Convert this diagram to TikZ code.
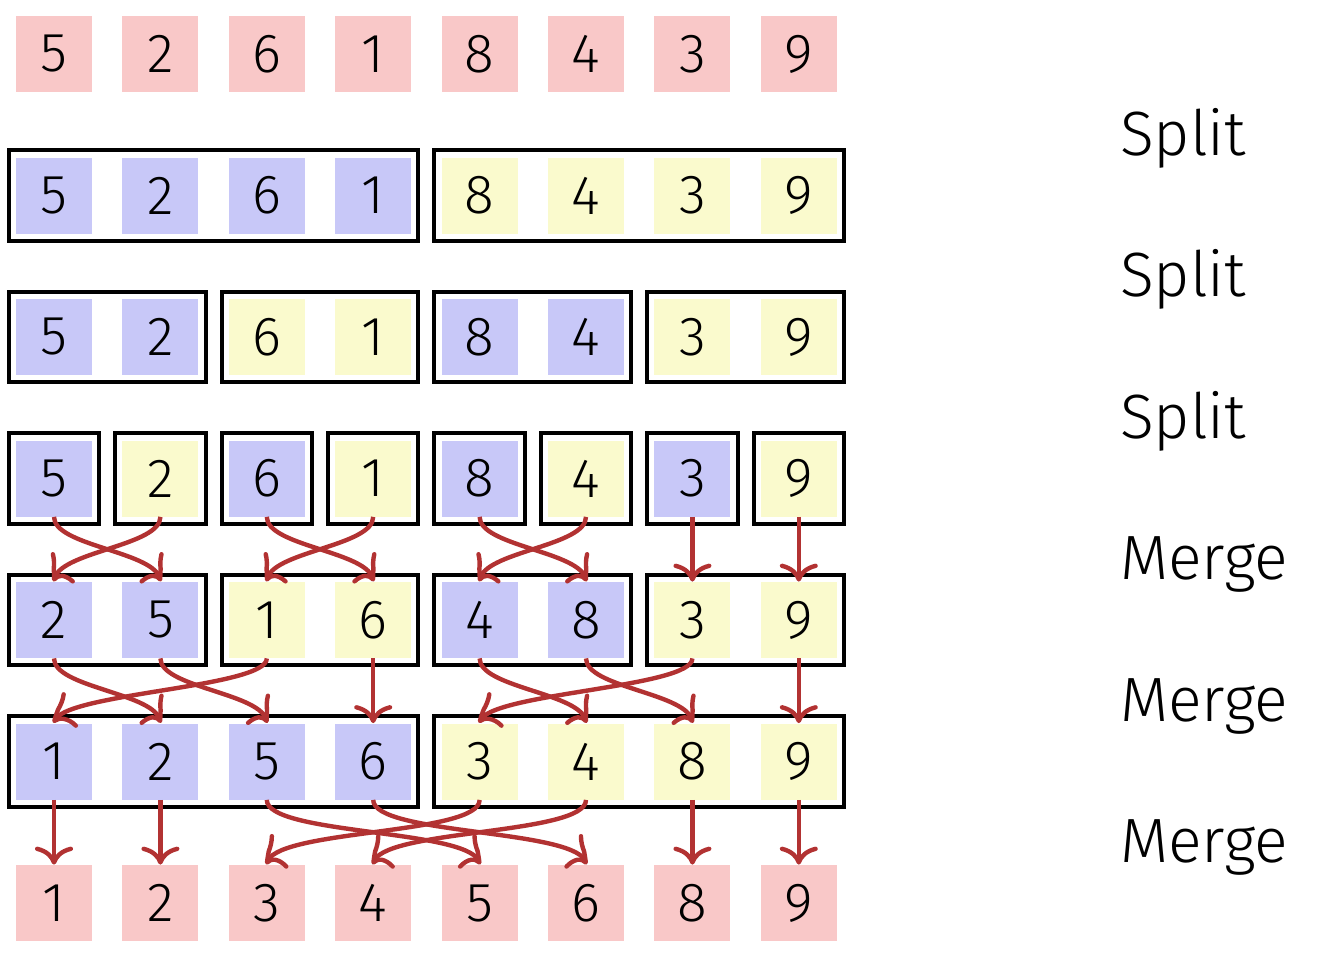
\documentclass[tikz,border=0pt]{standalone}
\usepackage{fontspec}
\setmainfont{Fira Sans Light}
\usetikzlibrary{fit,arrows.meta,bending}
\definecolor{cellred}{RGB}{249,200,200}
\definecolor{cellblue}{RGB}{200,200,248}
\definecolor{cellyellow}{RGB}{250,250,205}
\definecolor{flowred}{RGB}{178,50,50}
\tikzset{cell/.style={minimum size=38pt, inner sep=0pt, font=\fontsize{27.5}{30}\selectfont},
	red/.style={cell, fill=cellred},
	blu/.style={cell, fill=cellblue},
	yel/.style={cell, fill=cellyellow},
	grp/.style={draw, line width=2pt, inner sep=3.4pt},
	flow/.style={draw=flowred, line width=2.2pt, -{Computer Modern Rightarrow[bend,length=9pt,width=19pt]}},
	swap/.style={out=-90, in=90, distance=15pt},
	step label/.style={anchor=base west, font=\fontsize{31.3}{34}\selectfont}}

\begin{document}
\begin{tikzpicture}[x=0.5pt,y=-0.5pt]

					\useasboundingbox (0,0) rectangle (1325,958);

					% row 1
					\node[red] (c1-0) at (54,54) {5};
					\node[red] (c1-1) at (160.4,54) {2};
					\node[red] (c1-2) at (266.8,54) {6};
					\node[red] (c1-3) at (373.2,54) {1};
					\node[red] (c1-4) at (479.6,54) {8};
					\node[red] (c1-5) at (586,54) {4};
					\node[red] (c1-6) at (692.4,54) {3};
					\node[red] (c1-7) at (798.8,54) {9};

					% row 2
					\node[blu] (c2-0) at (54,195.5) {5};
					\node[blu] (c2-1) at (160.4,195.5) {2};
					\node[blu] (c2-2) at (266.8,195.5) {6};
					\node[blu] (c2-3) at (373.2,195.5) {1};
					\node[yel] (c2-4) at (479.6,195.5) {8};
					\node[yel] (c2-5) at (586,195.5) {4};
					\node[yel] (c2-6) at (692.4,195.5) {3};
					\node[yel] (c2-7) at (798.8,195.5) {9};

					\node[grp, fit=(c2-0)(c2-3)] (g2-0) {};
					\node[grp, fit=(c2-4)(c2-7)] (g2-1) {};

					% row 3
					\node[blu] (c3-0) at (54,337) {5};
					\node[blu] (c3-1) at (160.4,337) {2};
					\node[yel] (c3-2) at (266.8,337) {6};
					\node[yel] (c3-3) at (373.2,337) {1};
					\node[blu] (c3-4) at (479.6,337) {8};
					\node[blu] (c3-5) at (586,337) {4};
					\node[yel] (c3-6) at (692.4,337) {3};
					\node[yel] (c3-7) at (798.8,337) {9};

					\node[grp, fit=(c3-0)(c3-1)] (g3-0) {};
					\node[grp, fit=(c3-2)(c3-3)] (g3-1) {};
					\node[grp, fit=(c3-4)(c3-5)] (g3-2) {};
					\node[grp, fit=(c3-6)(c3-7)] (g3-3) {};

					% row 4
					\node[blu] (c4-0) at (54,478.5) {5};
					\node[yel] (c4-1) at (160.4,478.5) {2};
					\node[blu] (c4-2) at (266.8,478.5) {6};
					\node[yel] (c4-3) at (373.2,478.5) {1};
					\node[blu] (c4-4) at (479.6,478.5) {8};
					\node[yel] (c4-5) at (586,478.5) {4};
					\node[blu] (c4-6) at (692.4,478.5) {3};
					\node[yel] (c4-7) at (798.8,478.5) {9};

					\node[grp, fit=(c4-0)] (g4-0) {};
					\node[grp, fit=(c4-1)] (g4-1) {};
					\node[grp, fit=(c4-2)] (g4-2) {};
					\node[grp, fit=(c4-3)] (g4-3) {};
					\node[grp, fit=(c4-4)] (g4-4) {};
					\node[grp, fit=(c4-5)] (g4-5) {};
					\node[grp, fit=(c4-6)] (g4-6) {};
					\node[grp, fit=(c4-7)] (g4-7) {};

					% row 5
					\node[blu] (c5-0) at (54,620) {2};
					\node[blu] (c5-1) at (160.4,620) {5};
					\node[yel] (c5-2) at (266.8,620) {1};
					\node[yel] (c5-3) at (373.2,620) {6};
					\node[blu] (c5-4) at (479.6,620) {4};
					\node[blu] (c5-5) at (586,620) {8};
					\node[yel] (c5-6) at (692.4,620) {3};
					\node[yel] (c5-7) at (798.8,620) {9};

					\node[grp, fit=(c5-0)(c5-1)] (g5-0) {};
					\node[grp, fit=(c5-2)(c5-3)] (g5-1) {};
					\node[grp, fit=(c5-4)(c5-5)] (g5-2) {};
					\node[grp, fit=(c5-6)(c5-7)] (g5-3) {};

					% row 6
					\node[blu] (c6-0) at (54,761.5) {1};
					\node[blu] (c6-1) at (160.4,761.5) {2};
					\node[blu] (c6-2) at (266.8,761.5) {5};
					\node[blu] (c6-3) at (373.2,761.5) {6};
					\node[yel] (c6-4) at (479.6,761.5) {3};
					\node[yel] (c6-5) at (586,761.5) {4};
					\node[yel] (c6-6) at (692.4,761.5) {8};
					\node[yel] (c6-7) at (798.8,761.5) {9};

					\node[grp, fit=(c6-0)(c6-3)] (g6-0) {};
					\node[grp, fit=(c6-4)(c6-7)] (g6-1) {};

					% row 7
					\node[red] (c7-0) at (54,903) {1};
					\node[red] (c7-1) at (160.4,903) {2};
					\node[red] (c7-2) at (266.8,903) {3};
					\node[red] (c7-3) at (373.2,903) {4};
					\node[red] (c7-4) at (479.6,903) {5};
					\node[red] (c7-5) at (586,903) {6};
					\node[red] (c7-6) at (692.4,903) {8};
					\node[red] (c7-7) at (798.8,903) {9};

					% merge 1
					\draw[flow] (c4-0.south) to[swap] (c5-1.north);
					\draw[flow] (c4-1.south) to[swap] (c5-0.north);
					\draw[flow] (c4-2.south) to[swap] (c5-3.north);
					\draw[flow] (c4-3.south) to[swap] (c5-2.north);
					\draw[flow] (c4-4.south) to[swap] (c5-5.north);
					\draw[flow] (c4-5.south) to[swap] (c5-4.north);
					\draw[flow] (c4-6.south) -- (c5-6.north);
					\draw[flow] (c4-7.south) -- (c5-7.north);

					% merge 2
					\draw[flow] (c5-0.south) to[swap] (c6-1.north);
					\draw[flow] (c5-1.south) to[swap] (c6-2.north);
					\draw[flow] (c5-2.south) to[swap] (c6-0.north);
					\draw[flow] (c5-3.south) -- (c6-3.north);
					\draw[flow] (c5-4.south) to[swap] (c6-5.north);
					\draw[flow] (c5-5.south) to[swap] (c6-6.north);
					\draw[flow] (c5-6.south) to[swap] (c6-4.north);
					\draw[flow] (c5-7.south) -- (c6-7.north);

					% merge 3
					\draw[flow] (c6-0.south) -- (c7-0.north);
					\draw[flow] (c6-1.south) -- (c7-1.north);
					\draw[flow] (c6-2.south) to[swap, distance=18pt] (c7-4.north);
					\draw[flow] (c6-3.south) to[swap, distance=18pt] (c7-5.north);
					\draw[flow] (c6-4.south) to[swap, distance=18pt] (c7-2.north);
					\draw[flow] (c6-5.south) to[swap, distance=18pt] (c7-3.north);
					\draw[flow] (c6-6.south) -- (c7-6.north);
					\draw[flow] (c6-7.south) -- (c7-7.north);

					% labels
					\node[step label] (l1) at (1113,155) {Split};
					\node[step label] (l2) at (1113,296.5) {Split};
					\node[step label] (l3) at (1113,438) {Split};
					\node[step label] (l4) at (1113,579.5) {Merge};
					\node[step label] (l5) at (1113,721) {Merge};
					\node[step label] (l6) at (1113,862.5) {Merge};

				\end{tikzpicture}
\end{document}
